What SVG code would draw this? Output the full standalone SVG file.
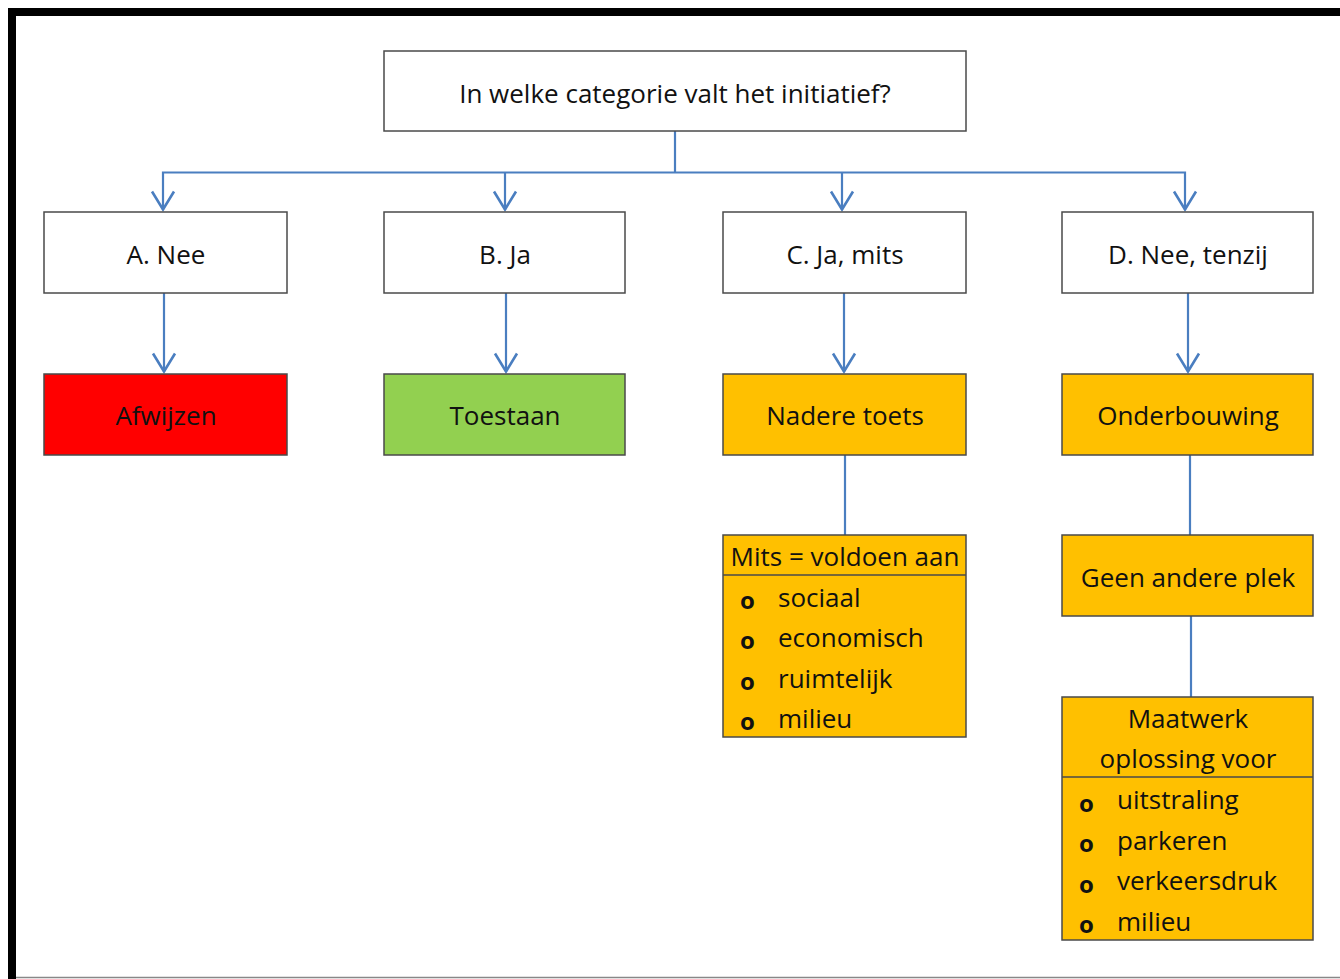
<svg xmlns="http://www.w3.org/2000/svg" width="1340" height="979" viewBox="0 0 1340 979">
<style>
.box{stroke:#4a4a4a;stroke-width:1.5}
.w{fill:#ffffff}
.o{fill:#ffc000}
.t{font-family:"Open Sans","Liberation Sans",sans-serif;font-size:26px;fill:#111;text-anchor:middle;dominant-baseline:central}
.l{font-family:"Open Sans","Liberation Sans",sans-serif;font-size:26px;fill:#111;dominant-baseline:central}
.b{font-weight:bold;font-size:24px}
.c{stroke:#4a7ec0;stroke-width:2.2;fill:none}
</style>
<defs>
<marker id="ar" viewBox="0 0 22 26" refX="20.5" refY="13" markerWidth="22" markerHeight="26" markerUnits="userSpaceOnUse" orient="auto-start-reverse">
<path d="M2,2 L20,13 L2,24" fill="none" stroke="#4a7ec0" stroke-width="2.6"/>
</marker>
</defs>
<rect x="0" y="0" width="1340" height="979" fill="#ffffff"/>
<g id="frame">
<rect x="8" y="8" width="1332" height="8" fill="#000"/>
<rect x="8" y="8" width="8" height="971" fill="#000"/>
<line x1="16" y1="977.5" x2="1340" y2="977.5" stroke="#888" stroke-width="1.5"/>
</g>
<g id="connectors">
<polyline class="c" points="675,131 675,172.5"/>
<polyline class="c" points="163,210 163,172.5 1185,172.5 1185,210" marker-start="url(#ar)" marker-end="url(#ar)"/>
<line class="c" x1="505" y1="172.5" x2="505" y2="210" marker-end="url(#ar)"/>
<line class="c" x1="842" y1="172.5" x2="842" y2="210" marker-end="url(#ar)"/>
<line class="c" x1="164" y1="293" x2="164" y2="372" marker-end="url(#ar)"/>
<line class="c" x1="506" y1="293" x2="506" y2="372" marker-end="url(#ar)"/>
<line class="c" x1="844" y1="293" x2="844" y2="372" marker-end="url(#ar)"/>
<line class="c" x1="1188" y1="293" x2="1188" y2="372" marker-end="url(#ar)"/>
<line class="c" x1="845" y1="455" x2="845" y2="535"/>
<line class="c" x1="1190" y1="455" x2="1190" y2="535"/>
<line class="c" x1="1191" y1="616" x2="1191" y2="697"/>
</g>
<g id="question">
<rect class="box w" x="384" y="51" width="582" height="80"/>
<text class="t" x="675" y="93">In welke categorie valt het initiatief?</text>
</g>
<g id="a-nee">
<rect class="box w" x="44" y="212" width="243" height="81"/>
<text class="t" x="166" y="254">A. Nee</text>
</g>
<g id="b-ja">
<rect class="box w" x="384" y="212" width="241" height="81"/>
<text class="t" x="505" y="254">B. Ja</text>
</g>
<g id="c-ja-mits">
<rect class="box w" x="723" y="212" width="243" height="81"/>
<text class="t" x="845" y="254">C. Ja, mits</text>
</g>
<g id="d-nee-tenzij">
<rect class="box w" x="1062" y="212" width="251" height="81"/>
<text class="t" x="1188" y="254">D. Nee, tenzij</text>
</g>
<g id="afwijzen">
<rect class="box" fill="#ff0000" x="44" y="374" width="243" height="81"/>
<text class="t" x="166" y="415">Afwijzen</text>
</g>
<g id="toestaan">
<rect class="box" fill="#92d050" x="384" y="374" width="241" height="81"/>
<text class="t" x="505" y="415">Toestaan</text>
</g>
<g id="nadere-toets">
<rect class="box o" x="723" y="374" width="243" height="81"/>
<text class="t" x="845" y="415">Nadere toets</text>
</g>
<g id="onderbouwing">
<rect class="box o" x="1062" y="374" width="251" height="81"/>
<text class="t" x="1188" y="415">Onderbouwing</text>
</g>
<g id="mits">
<rect class="box o" x="723" y="535" width="243" height="202"/>
<line class="box" x1="723" y1="575" x2="966" y2="575"/>
<text class="t" x="845" y="556">Mits = voldoen aan</text>
<text class="l b" x="740" y="599">o</text><text class="l" x="778" y="597">sociaal</text>
<text class="l b" x="740" y="639">o</text><text class="l" x="778" y="637">economisch</text>
<text class="l b" x="740" y="680">o</text><text class="l" x="778" y="678">ruimtelijk</text>
<text class="l b" x="740" y="720">o</text><text class="l" x="778" y="718">milieu</text>
</g>
<g id="geen-andere-plek">
<rect class="box o" x="1062" y="535" width="251" height="81"/>
<text class="t" x="1188" y="577">Geen andere plek</text>
</g>
<g id="maatwerk">
<rect class="box o" x="1062" y="697" width="251" height="243"/>
<line class="box" x1="1062" y1="777" x2="1313" y2="777"/>
<text class="t" x="1188" y="718">Maatwerk</text>
<text class="t" x="1188" y="758">oplossing voor</text>
<text class="l b" x="1079" y="802">o</text><text class="l" x="1117" y="799">uitstraling</text>
<text class="l b" x="1079" y="842">o</text><text class="l" x="1117" y="840">parkeren</text>
<text class="l b" x="1079" y="883">o</text><text class="l" x="1117" y="880">verkeersdruk</text>
<text class="l b" x="1079" y="923">o</text><text class="l" x="1117" y="921">milieu</text>
</g>
</svg>
